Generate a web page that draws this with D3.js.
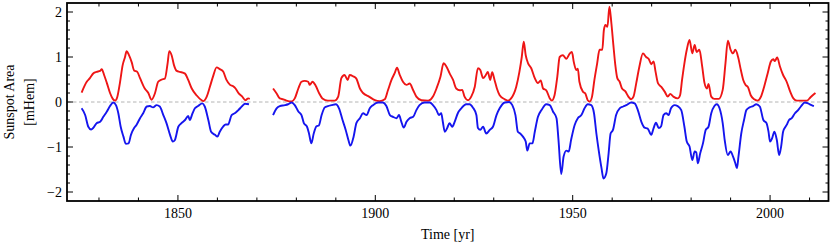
<!DOCTYPE html>
<html>
<head>
<meta charset="utf-8">
<script src="https://cdn.jsdelivr.net/npm/d3@7"></script>
<style>
  body { margin: 0; background: #fff; }
  text { font-family: "Liberation Serif", "DejaVu Serif", serif; }
</style>
</head>
<body>
<svg></svg>
<script>
const width = 830;
const height = 246;
const margin = {top: 3, right: 1, bottom: 45, left: 67};

// northern hemisphere (plotted up), [year, mHem]
const north1 = [[1825.6,0.21],[1826.9,0.45],[1827.7,0.53],[1828.6,0.64],[1829.4,0.67],[1830.3,0.69],[1830.7,0.73],[1831.3,0.6],[1832,0.42],[1832.8,0.2],[1833.5,0.07],[1834.1,0.03],[1834.6,0.1],[1835.3,0.42],[1836,0.82],[1836.6,1.0],[1837,1.13],[1837.6,1.04],[1838.3,0.88],[1838.9,0.7],[1839.7,0.67],[1840.4,0.53],[1841.6,0.3],[1842.5,0.2],[1843.3,0.05],[1844.2,0.2],[1845,0.45],[1845.9,0.5],[1846.7,0.52],[1847.4,0.87],[1847.8,1.13],[1848.4,1.04],[1849,0.82],[1849.7,0.69],[1850.5,0.67],[1851.8,0.63],[1852.6,0.49],[1853.5,0.3],[1854.7,0.15],[1856,0.04],[1856.4,0.02],[1857.3,0.12],[1858.1,0.34],[1858.9,0.57],[1859.8,0.77],[1860.6,0.73],[1861.5,0.67],[1862.3,0.49],[1863.2,0.38],[1864,0.35],[1864.6,0.3],[1865.4,0.19],[1866.3,0.12],[1867.1,0.04],[1867.8,0.08],[1868.2,0.07]];
const north2 = [[1874.1,0.3],[1875,0.19],[1875.8,0.08],[1876.7,0.06],[1877.5,0.03],[1878.8,0.01],[1879.6,0.08],[1880.5,0.3],[1881.3,0.45],[1882.1,0.47],[1883,0.45],[1883.4,0.38],[1884.1,0.45],[1884.9,0.36],[1885.8,0.19],[1886.6,0.08],[1888,0.03],[1889.7,0.03],[1890.6,0.12],[1891.4,0.53],[1892.2,0.6],[1893,0.49],[1893.5,0.6],[1894.4,0.57],[1895.2,0.52],[1896.1,0.3],[1896.9,0.2],[1898.4,0.12],[1899.9,0.04],[1901.1,0.02],[1902.4,0.06],[1903.2,0.26],[1904.1,0.49],[1904.9,0.64],[1905.5,0.76],[1906.2,0.6],[1907,0.45],[1907.9,0.38],[1908.7,0.41],[1909.6,0.26],[1910.4,0.12],[1911.7,0.04],[1913.4,0.03],[1914.6,0.12],[1915.5,0.3],[1916.5,0.56],[1917.3,0.86],[1918,0.79],[1918.8,0.64],[1919.7,0.49],[1920.5,0.3],[1921.4,0.26],[1922,0.27],[1922.6,0.12],[1923.5,0.04],[1924.3,0.12],[1925.2,0.34],[1926,0.75],[1926.6,0.71],[1927.3,0.53],[1928,0.6],[1928.5,0.67],[1929.1,0.49],[1929.6,0.66],[1930.2,0.49],[1930.8,0.3],[1931.5,0.15],[1932.8,0.06],[1933.6,0.03],[1934.4,0.08],[1935.7,0.34],[1936.5,0.67],[1937.1,1.0],[1937.6,1.34],[1938.1,1.04],[1938.7,0.86],[1939.5,0.75],[1940.4,0.53],[1941.2,0.42],[1941.9,0.48],[1942.5,0.3],[1943.3,0.26],[1944.2,0.08],[1944.7,0.03],[1945.4,0.15],[1946.1,0.56],[1946.7,1.0],[1947.5,1.04],[1948.4,0.96],[1949.2,1.07],[1949.8,1.11],[1950.3,0.88],[1950.9,0.71],[1951.3,0.74],[1951.7,0.45],[1952.6,0.23],[1953.2,0.19],[1953.8,0.04],[1954.3,0.01],[1954.9,0.12],[1955.5,0.49],[1956.2,0.86],[1956.8,1.16],[1957.5,1.16],[1957.9,1.6],[1958.3,1.71],[1958.8,1.67],[1959.3,2.12],[1959.8,1.75],[1960.3,1.27],[1960.8,0.82],[1961.3,0.53],[1961.9,0.45],[1962.5,0.3],[1963.3,0.24],[1964.1,0.12],[1964.8,0.06],[1965.4,0.12],[1966.1,0.42],[1966.9,0.79],[1967.8,1.08],[1968.6,1.0],[1969.3,0.95],[1969.9,0.84],[1970.5,0.9],[1971,0.67],[1971.6,0.42],[1972.4,0.34],[1973.3,0.23],[1974.1,0.12],[1974.7,0.18],[1975.5,0.12],[1976.6,0.08],[1977.2,0.15],[1977.7,0.49],[1978.3,0.86],[1978.9,1.16],[1979.6,1.38],[1980.3,1.08],[1980.9,1.27],[1981.4,1.11],[1982.1,1.16],[1982.8,0.79],[1983.4,0.42],[1984,0.3],[1984.4,0.4],[1985.1,0.12],[1985.9,0.07],[1987,0.07],[1988,0.27],[1988.7,0.86],[1989.3,1.36],[1990,1.16],[1990.6,1.08],[1991.2,1.16],[1991.9,1.0],[1992.6,0.71],[1993.2,0.49],[1993.8,0.38],[1994.4,0.33],[1995.1,0.15],[1996,0.06],[1996.8,0.03],[1997.7,0.12],[1998.5,0.34],[1999.4,0.64],[2000.2,0.9],[2000.8,0.95],[2001.2,0.91],[2001.8,0.99],[2002.5,0.79],[2003.3,0.6],[2004.2,0.45],[2005.1,0.23],[2005.9,0.08],[2006.8,0.03],[2008.1,0.03],[2009.3,0.03],[2010.2,0.1],[2010.8,0.15],[2011.5,0.2]];

// southern hemisphere (plotted down)
const south1 = [[1825.6,-0.14],[1826.5,-0.29],[1827.3,-0.55],[1828,-0.61],[1828.6,-0.57],[1829.4,-0.47],[1830.3,-0.44],[1831.1,-0.33],[1832,-0.21],[1832.8,-0.09],[1833.6,-0.01],[1834.3,-0.07],[1834.9,-0.25],[1835.5,-0.55],[1836.2,-0.77],[1836.8,-0.93],[1837.5,-0.92],[1838.1,-0.73],[1838.9,-0.58],[1839.5,-0.51],[1840.4,-0.36],[1841.2,-0.25],[1842.1,-0.1],[1842.9,-0.09],[1843.7,-0.12],[1844.6,-0.07],[1845.4,-0.1],[1846.3,-0.29],[1847.1,-0.47],[1848,-0.73],[1848.7,-0.88],[1849.2,-0.85],[1850.1,-0.55],[1850.9,-0.47],[1851.8,-0.4],[1852.6,-0.31],[1853,-0.4],[1853.7,-0.25],[1854.3,-0.14],[1855.1,-0.09],[1856.2,-0.03],[1856.8,-0.1],[1857.7,-0.4],[1858.4,-0.66],[1859.4,-0.73],[1860,-0.77],[1860.6,-0.66],[1861.5,-0.54],[1862.1,-0.5],[1862.7,-0.5],[1863.6,-0.29],[1864.4,-0.25],[1865.3,-0.18],[1866.3,-0.09],[1867,-0.04],[1868,-0.05]];
const south2 = [[1874.1,-0.29],[1875,-0.14],[1875.8,-0.09],[1877.1,-0.07],[1877.9,-0.05],[1878.8,-0.01],[1879.6,-0.07],[1880.5,-0.21],[1881.3,-0.29],[1881.9,-0.47],[1882.7,-0.55],[1883.2,-0.7],[1883.8,-0.92],[1884.4,-0.7],[1885.1,-0.54],[1885.7,-0.52],[1886.4,-0.29],[1887.2,-0.12],[1888,-0.09],[1888.9,-0.07],[1890,-0.05],[1890.8,-0.14],[1891.7,-0.4],[1892.5,-0.62],[1893.2,-0.85],[1893.7,-0.97],[1894.5,-0.77],[1895.2,-0.47],[1896.1,-0.36],[1896.9,-0.25],[1897.8,-0.29],[1898.6,-0.14],[1899.4,-0.07],[1900.7,-0.01],[1901.9,-0.01],[1902.8,-0.09],[1903.7,-0.29],[1904.5,-0.33],[1905.4,-0.36],[1906,-0.29],[1906.6,-0.44],[1907.2,-0.57],[1907.9,-0.44],[1908.7,-0.36],[1909.6,-0.33],[1910.4,-0.18],[1911.2,-0.07],[1912.5,-0.01],[1913.8,-0.01],[1914.6,-0.07],[1915.5,-0.18],[1916.1,-0.29],[1916.7,-0.25],[1917.1,-0.44],[1917.6,-0.66],[1918.2,-0.58],[1918.8,-0.47],[1919.5,-0.55],[1920.1,-0.44],[1920.9,-0.25],[1921.8,-0.14],[1923,-0.05],[1923.9,-0.05],[1924.7,-0.12],[1925.6,-0.29],[1926,-0.58],[1926.6,-0.62],[1927.3,-0.55],[1928.1,-0.7],[1929,-0.62],[1929.8,-0.55],[1930.7,-0.29],[1931.5,-0.14],[1932.8,-0.01],[1933.9,0],[1934.7,-0.07],[1935.5,-0.29],[1936.1,-0.66],[1936.7,-0.7],[1937.4,-0.77],[1938.1,-0.88],[1938.5,-1.08],[1939.1,-0.92],[1939.8,-0.92],[1940.4,-0.66],[1941.2,-0.33],[1942.1,-0.18],[1943.3,-0.05],[1944.2,-0.07],[1945,-0.21],[1945.9,-0.36],[1946.4,-0.84],[1947.1,-1.6],[1947.7,-1.21],[1948.4,-1.08],[1949,-1.1],[1949.6,-0.84],[1950.5,-0.51],[1951.3,-0.36],[1952.2,-0.29],[1953,-0.14],[1953.8,-0.05],[1954.7,-0.07],[1955.4,-0.25],[1956,-0.7],[1956.6,-1.08],[1957.3,-1.47],[1957.8,-1.7],[1958.5,-1.59],[1959.1,-1.14],[1959.6,-0.7],[1960.2,-0.62],[1961,-0.29],[1961.9,-0.14],[1962.8,-0.1],[1963.6,-0.07],[1964.8,-0.01],[1965.7,-0.03],[1966.5,-0.18],[1967.4,-0.44],[1968.2,-0.57],[1969,-0.59],[1969.9,-0.73],[1970.5,-0.58],[1971.1,-0.46],[1971.8,-0.58],[1972.4,-0.54],[1973,-0.29],[1973.7,-0.25],[1974.3,-0.29],[1974.9,-0.14],[1975.8,-0.07],[1976.6,-0.09],[1977.5,-0.18],[1978.3,-0.55],[1978.9,-0.88],[1979.6,-0.99],[1980.3,-1.29],[1980.9,-1.1],[1981.3,-1.12],[1981.7,-1.36],[1982.3,-1.14],[1983,-0.92],[1983.7,-0.62],[1984.4,-0.55],[1985.1,-0.25],[1985.9,-0.09],[1986.5,-0.05],[1987.2,-0.14],[1988,-0.47],[1988.5,-0.84],[1989.3,-1.18],[1990,-1.1],[1990.6,-1.21],[1991.2,-1.36],[1991.6,-1.47],[1992,-1.21],[1992.7,-0.7],[1993.4,-0.4],[1994,-0.18],[1994.8,-0.12],[1995.7,-0.09],[1996.5,-0.05],[1997.4,-0.1],[1998.3,-0.4],[1999.1,-0.47],[1999.6,-0.66],[2000,-0.88],[2000.5,-0.81],[2001.1,-0.66],[2001.7,-0.84],[2002.3,-1.18],[2002.8,-0.99],[2003.3,-0.66],[2004.2,-0.51],[2004.8,-0.4],[2005.5,-0.36],[2006.3,-0.25],[2007.1,-0.18],[2007.8,-0.1],[2008.8,-0.01],[2009.6,-0.03],[2010.5,-0.07],[2011.1,-0.09]];

const xMajor = [1850, 1900, 1950, 2000];
const yMajor = [-2, -1, 0, 1, 2];

const svg = d3.select('svg')
    .attr('width', width).attr('height', height);

const x = d3.scaleLinear()
    .domain([1821.9, 2014.8])
    .range([margin.left, width - margin.right - 0.5]);
const y = d3.scaleLinear()
    .domain([-2.2, 2.2])
    .range([height - margin.bottom, margin.top]);

const x0 = x.range()[0], x1 = x.range()[1];
const y0 = y.range()[1], y1 = y.range()[0];

// zero line
svg.append('line')
    .attr('x1', x0).attr('x2', x1)
    .attr('y1', y(0)).attr('y2', y(0))
    .attr('stroke', '#b4b4b4')
    .attr('stroke-width', 1)
    .attr('stroke-dasharray', '3.5,2.5');

const line = d3.line()
    .x(d => x(d[0]))
    .y(d => y(d[1]))
    .curve(d3.curveMonotoneX);

[[north1, '#ee1515'], [north2, '#ee1515'], [south1, '#1515ee'], [south2, '#1515ee']]
    .forEach(([data, color]) => {
        svg.append('path')
            .datum(data)
            .attr('fill', 'none')
            .attr('stroke', color)
            .attr('stroke-width', 1.9)
            .attr('stroke-linejoin', 'round')
            .attr('d', line);
    });

// ticks, drawn inward like the original frame
const ticks = svg.append('g').attr('stroke', '#000').attr('stroke-width', 1);
const xMinor = d3.range(1830, 2015, 10);
xMinor.forEach(t => {
    const len = xMajor.includes(t) ? 6 : 3.5;
    ticks.append('line').attr('x1', x(t)).attr('x2', x(t)).attr('y1', y1).attr('y2', y1 - len);
    ticks.append('line').attr('x1', x(t)).attr('x2', x(t)).attr('y1', y0).attr('y2', y0 + len);
});
const yMinor = d3.range(-20, 21, 2).map(v => v / 10);
yMinor.forEach(t => {
    const len = yMajor.includes(t) ? 6 : 3;
    ticks.append('line').attr('y1', y(t)).attr('y2', y(t)).attr('x1', x0).attr('x2', x0 + len);
    ticks.append('line').attr('y1', y(t)).attr('y2', y(t)).attr('x1', x1).attr('x2', x1 - len);
});

// frame
svg.append('rect')
    .attr('x', x0).attr('y', y0)
    .attr('width', x1 - x0).attr('height', y1 - y0)
    .attr('fill', 'none')
    .attr('stroke', '#000')
    .attr('stroke-width', 1.8);

// tick labels
svg.append('g').selectAll('text')
    .data(xMajor).enter().append('text')
    .attr('x', d => x(d))
    .attr('y', y1 + 17)
    .attr('text-anchor', 'middle')
    .attr('font-size', 14)
    .text(d => d);

svg.append('g').selectAll('text')
    .data(yMajor).enter().append('text')
    .attr('x', x0 - 5)
    .attr('y', d => y(d) + 5)
    .attr('text-anchor', 'end')
    .attr('font-size', 14)
    .text(d => d < 0 ? '\u2212' + Math.abs(d) : d);

// axis titles
svg.append('text')
    .attr('x', (x0 + x1) / 2)
    .attr('y', 239)
    .attr('text-anchor', 'middle')
    .attr('font-size', 14)
    .text('Time [yr]');

const yTitle = svg.append('text')
    .attr('transform', `translate(14,${(y0 + y1) / 2}) rotate(-90)`)
    .attr('text-anchor', 'middle')
    .attr('font-size', 14);
yTitle.append('tspan').attr('x', 0).attr('dy', 0).text('Sunspot Area');
yTitle.append('tspan').attr('x', 0).attr('dy', 20).text('[mHem]');
</script>
</body>
</html>
